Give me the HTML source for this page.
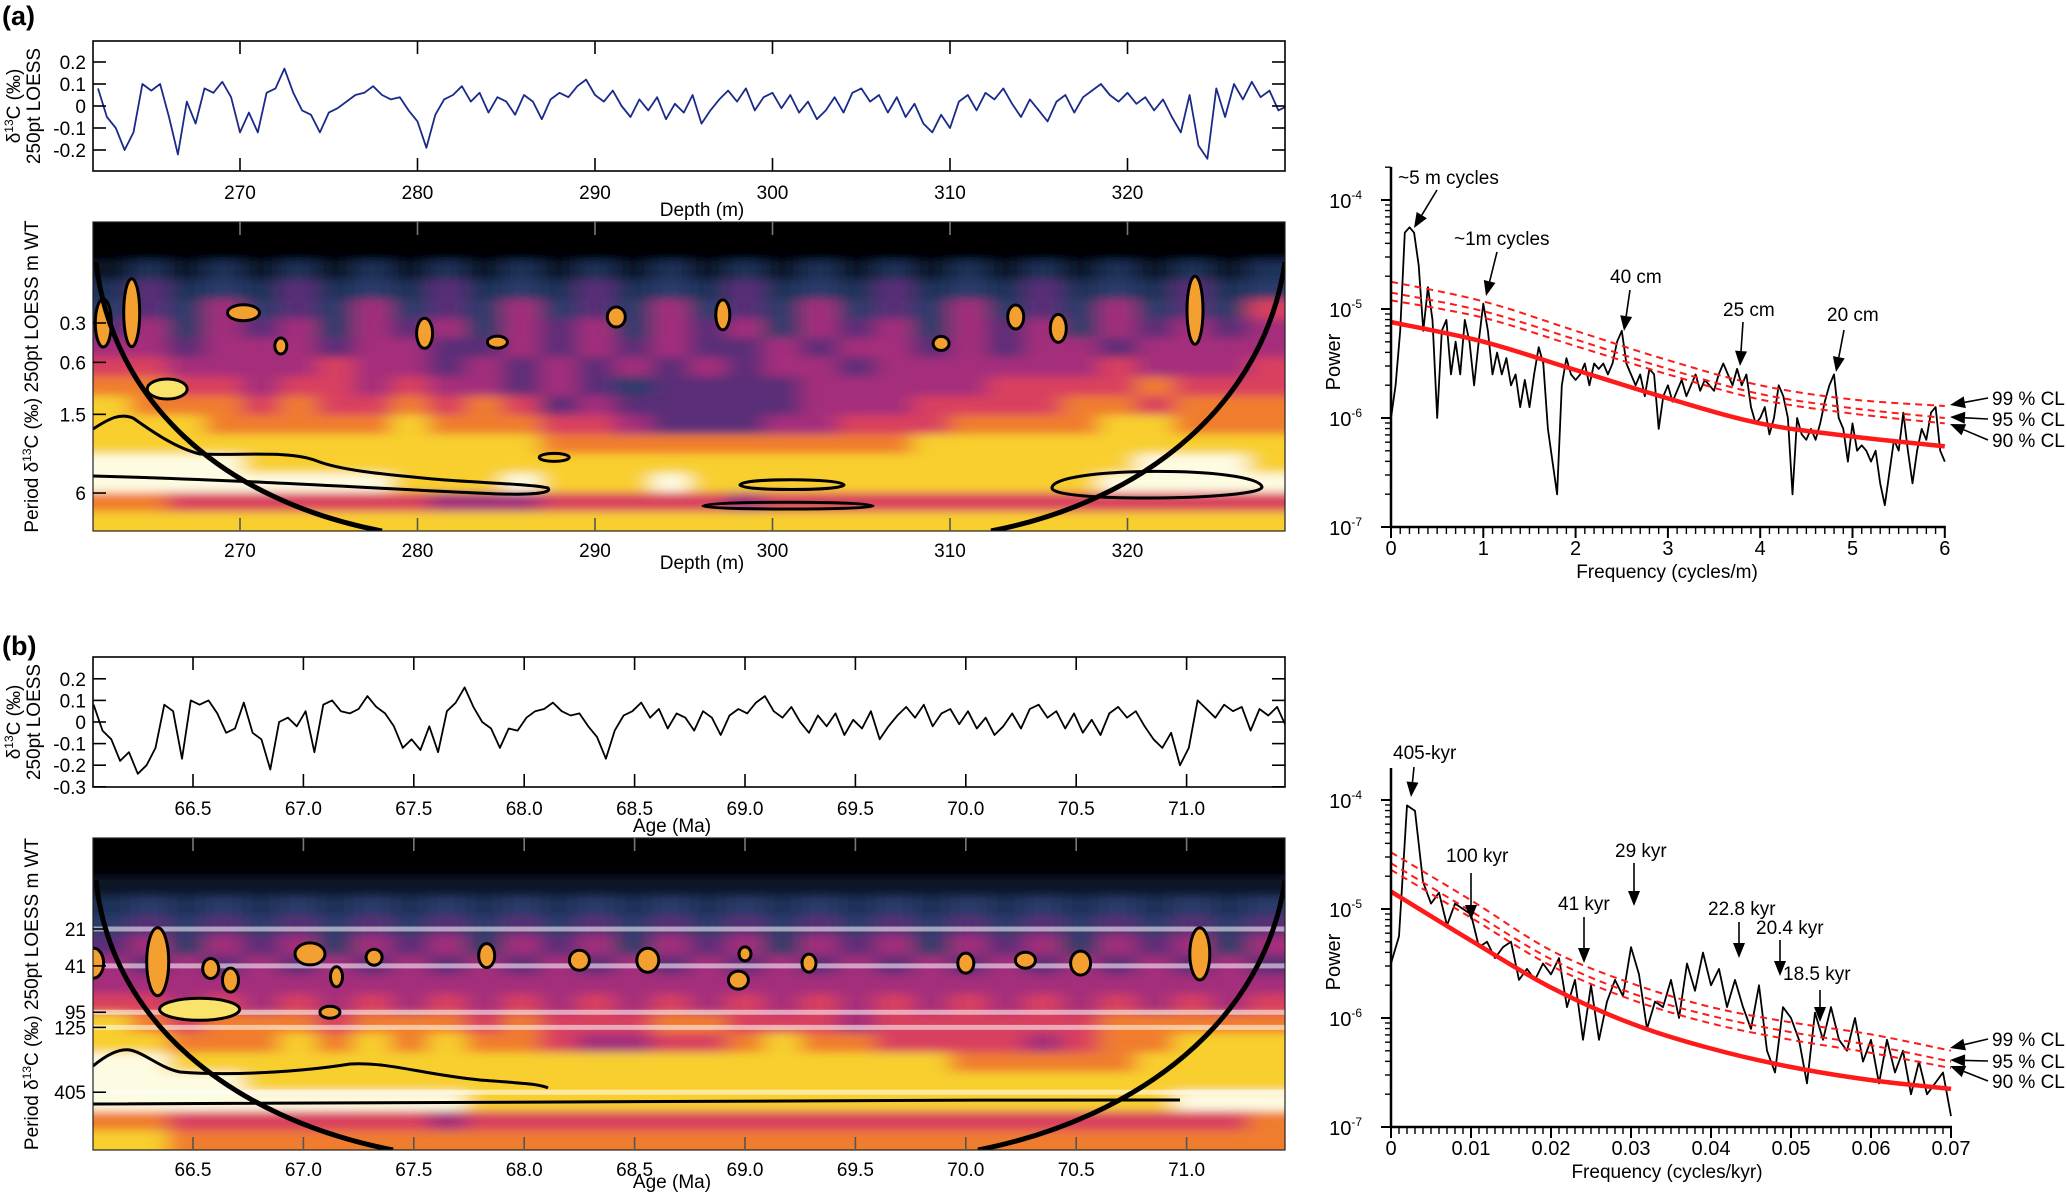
<!DOCTYPE html>
<html><head><meta charset="utf-8"><style>
html,body{margin:0;padding:0;background:#fff;}
svg{display:block;font-family:"Liberation Sans",Arial,sans-serif;}
</style></head><body>
<svg id="fig" width="2067" height="1196" viewBox="0 0 2067 1196" xmlns="http://www.w3.org/2000/svg">
<defs>
<filter id="blurA" x="-5%" y="-5%" width="110%" height="110%"><feGaussianBlur stdDeviation="11 4.5"/></filter>
<clipPath id="clipWA"><rect x="93" y="222" width="1192" height="309"/></clipPath>
<clipPath id="clipWB"><rect x="93" y="838" width="1192" height="312"/></clipPath>
</defs>
</svg>
<script>
// ---------- DATA ----------
const tsAStart = 262.0, tsAStep = 0.5;
const tsAValues = [0.08,-0.05,-0.1,-0.2,-0.12,0.1,0.07,0.1,-0.05,-0.22,0.02,-0.08,0.08,0.06,0.11,0.04,-0.12,-0.03,-0.12,0.06,0.08,0.17,0.06,-0.02,-0.04,-0.12,-0.03,-0.01,0.02,0.05,0.06,0.09,0.05,0.03,0.04,-0.02,-0.07,-0.19,-0.04,0.03,0.05,0.09,0.02,0.06,-0.03,0.04,0.02,-0.04,0.05,0.02,-0.06,0.03,0.06,0.04,0.09,0.12,0.05,0.02,0.07,0.0,-0.05,0.03,-0.02,0.04,-0.06,0.01,-0.03,0.05,-0.08,-0.02,0.03,0.07,0.02,0.08,-0.02,0.04,0.06,-0.01,0.05,-0.03,0.02,-0.06,-0.02,0.04,-0.03,0.06,0.08,0.02,0.05,-0.03,0.04,-0.05,0.01,-0.08,-0.12,-0.04,-0.1,0.02,0.05,-0.02,0.06,0.03,0.08,0.01,-0.05,0.03,-0.02,-0.07,0.02,0.05,-0.03,0.04,0.07,0.1,0.05,0.02,0.06,0.01,0.04,-0.02,0.03,-0.05,-0.12,0.05,-0.18,-0.24,0.08,-0.05,0.1,0.03,0.11,0.04,0.07,-0.02,0.0,-0.03];
const tsBStart = 66.05, tsBStep = 0.04;
const tsBValues = [0.08,-0.04,-0.08,-0.18,-0.14,-0.24,-0.2,-0.12,0.08,0.05,-0.17,0.1,0.08,0.1,0.04,-0.05,-0.03,0.09,-0.05,-0.08,-0.22,0.0,0.02,-0.02,0.05,-0.14,0.08,0.1,0.05,0.04,0.06,0.12,0.07,0.04,-0.02,-0.12,-0.08,-0.13,-0.02,-0.14,0.05,0.09,0.16,0.07,0.0,-0.03,-0.12,-0.03,-0.04,0.02,0.05,0.06,0.09,0.05,0.03,0.04,-0.02,-0.07,-0.17,-0.04,0.03,0.05,0.09,0.02,0.06,-0.03,0.04,0.02,-0.04,0.05,0.02,-0.06,0.03,0.06,0.04,0.09,0.12,0.05,0.02,0.07,0.0,-0.05,0.03,-0.02,0.04,-0.06,0.01,-0.03,0.05,-0.08,-0.02,0.03,0.07,0.02,0.08,-0.02,0.04,0.06,-0.01,0.05,-0.03,0.02,-0.06,-0.02,0.04,-0.03,0.06,0.08,0.02,0.05,-0.03,0.04,-0.05,0.01,-0.06,0.04,0.07,0.02,0.05,-0.02,-0.08,-0.12,-0.05,-0.2,-0.12,0.1,0.06,0.02,0.08,0.05,0.07,-0.04,0.06,0.03,0.07,-0.02,0.04,0.01];
const specAFreq = [0,0.05,0.1,0.15,0.2,0.25,0.3,0.35,0.4,0.45,0.5,0.55,0.6,0.65,0.7,0.75,0.8,0.85,0.9,0.95,1.0,1.05,1.1,1.15,1.2,1.25,1.3,1.35,1.4,1.45,1.5,1.55,1.6,1.65,1.7,1.75,1.8,1.85,1.9,1.95,2.0,2.05,2.1,2.15,2.2,2.25,2.3,2.35,2.4,2.45,2.5,2.55,2.6,2.65,2.7,2.75,2.8,2.85,2.9,2.95,3.0,3.05,3.1,3.15,3.2,3.25,3.3,3.35,3.4,3.45,3.5,3.55,3.6,3.65,3.7,3.75,3.8,3.85,3.9,3.95,4.0,4.05,4.1,4.15,4.2,4.25,4.3,4.35,4.4,4.45,4.5,4.55,4.6,4.65,4.7,4.75,4.8,4.85,4.9,4.95,5.0,5.05,5.1,5.15,5.2,5.25,5.3,5.35,5.4,5.45,5.5,5.55,5.6,5.65,5.7,5.75,5.8,5.85,5.9,5.95,6.0];
const specALogPower = [-6.0,-5.7,-5.2,-4.3,-4.25,-4.3,-4.6,-5.2,-4.8,-5.1,-6.0,-5.2,-5.1,-5.6,-5.3,-5.6,-5.1,-5.3,-5.7,-5.3,-4.95,-5.2,-5.6,-5.4,-5.6,-5.45,-5.7,-5.6,-5.9,-5.65,-5.9,-5.6,-5.35,-5.5,-6.1,-6.4,-6.7,-5.7,-5.45,-5.6,-5.65,-5.6,-5.5,-5.7,-5.5,-5.55,-5.5,-5.6,-5.5,-5.3,-5.2,-5.5,-5.6,-5.7,-5.6,-5.8,-5.55,-5.6,-6.1,-5.8,-5.7,-5.85,-5.75,-5.65,-5.8,-5.7,-5.6,-5.75,-5.65,-5.7,-5.75,-5.6,-5.5,-5.6,-5.7,-5.55,-5.7,-5.6,-5.9,-6.05,-6.0,-5.9,-6.15,-6.0,-5.7,-5.8,-6.0,-6.7,-6.0,-6.15,-6.2,-6.1,-6.2,-6.05,-5.85,-5.7,-5.6,-6.0,-6.1,-6.4,-6.05,-6.3,-6.25,-6.3,-6.4,-6.3,-6.6,-6.8,-6.5,-6.2,-6.3,-5.95,-6.3,-6.6,-6.3,-6.1,-6.2,-5.95,-5.9,-6.3,-6.4];
const specABgFreq = [0,1,2,3,4,5,6];
const specABg = [-5.12,-5.30,-5.56,-5.82,-6.05,-6.17,-6.26];
const specACL90 = [-4.92,-5.08,-5.34,-5.60,-5.83,-5.96,-6.05];
const specACL95 = [-4.85,-5.02,-5.28,-5.55,-5.78,-5.91,-6.0];
const specACL99 = [-4.75,-4.93,-5.2,-5.47,-5.70,-5.83,-5.89];
const specBFreq = [0,0.001,0.002,0.003,0.004,0.005,0.006,0.007,0.008,0.009,0.01,0.011,0.012,0.013,0.014,0.015,0.016,0.017,0.018,0.019,0.02,0.021,0.022,0.023,0.024,0.025,0.026,0.027,0.028,0.029,0.03,0.031,0.032,0.033,0.034,0.035,0.036,0.037,0.038,0.039,0.04,0.041,0.042,0.043,0.044,0.045,0.046,0.047,0.048,0.049,0.05,0.051,0.052,0.053,0.054,0.055,0.056,0.057,0.058,0.059,0.06,0.061,0.062,0.063,0.064,0.065,0.066,0.067,0.068,0.069,0.07];
const specBLogPower = [-5.5,-5.25,-4.05,-4.1,-4.75,-4.95,-4.85,-5.15,-4.95,-5.0,-5.05,-5.35,-5.3,-5.45,-5.35,-5.3,-5.65,-5.55,-5.65,-5.5,-5.6,-5.45,-5.9,-5.65,-6.2,-5.7,-6.2,-5.85,-5.65,-5.8,-5.35,-5.6,-6.1,-5.85,-5.9,-5.65,-6.0,-5.5,-5.75,-5.4,-5.7,-5.55,-5.9,-5.65,-5.9,-6.1,-5.7,-6.3,-6.5,-5.9,-6.0,-6.2,-6.6,-5.95,-6.2,-5.9,-6.2,-6.3,-6.0,-6.4,-6.2,-6.6,-6.2,-6.5,-6.3,-6.7,-6.4,-6.7,-6.6,-6.5,-6.9];
const specBBgFreq = [0,0.01,0.02,0.03,0.04,0.05,0.06,0.07];
const specBBg = [-4.84,-5.29,-5.72,-6.05,-6.28,-6.45,-6.57,-6.65];
const specBCL90 = [-4.64,-5.08,-5.52,-5.83,-6.05,-6.2,-6.32,-6.46];
const specBCL95 = [-4.58,-5.02,-5.46,-5.77,-5.98,-6.13,-6.25,-6.4];
const specBCL99 = [-4.48,-4.92,-5.38,-5.68,-5.9,-6.04,-6.15,-6.3];
// wavelet power grids (0 = black ... 9 = white), rows top (short period) to bottom (long period)
const waveARows = [
"00000000000000000000000000000000",
"00000000000000000000000000000000",
"12121212121212121212121212121212",
"24232423242324232423242324232423",
"34353435343534353435343534353436",
"45354535453545354535453545354545",
"55455545544545454454554545545555",
"66555565545454545455455555565556",
"77665665655454344445555566667666",
"87776766767645444445556666776777",
"88877777877766544455666777788777",
"88888888888877777777778888888888",
"99998888888888888888888888889998",
"99999999888988898888888888899999",
"77666666655566666566666666666666",
"88888888888888888888888888888888"];
const waveBRows = [
"00000000000000000000000000000000",
"00000000000000000000000000000000",
"11111111111111111111111111111111",
"23232323232323232323232323232323",
"34343434343434343434343434343434",
"45354535453545354535453545354535",
"54545454545454545454545454545454",
"55555555555555555555555555555555",
"66565656565656565656565656565656",
"87677767776766677666566666677777",
"88777878787765566787766665677888",
"99888888888888888888888777778888",
"99998888888888888888888888888888",
"99999999998888888888888888888999",
"77666666656666666666666666666667",
"88777777777777777777777777777777"];
// significant-power blobs: [depth, period, rx(px), ry(px), kind]
const blobsA = [[262.3,0.3,8,24,'o'],[263.9,0.25,8,34,'o'],[265.9,0.96,20,10,'y'],[270.2,0.25,16,8,'o'],[272.3,0.45,6,8,'o'],[280.4,0.36,8,15,'o'],[284.5,0.42,10,6,'o'],[291.2,0.27,9,10,'o'],[297.2,0.26,7,15,'o'],[309.5,0.43,8,7,'o'],[313.7,0.27,8,12,'o'],[316.1,0.33,8,14,'o'],[323.8,0.24,8,34,'o'],[287.7,3.2,15,4,'n']];
const blobsB = [[66.05,39,10,15,'o'],[66.34,38,11,34,'o'],[66.53,90,40,11,'y'],[66.67,53,8,12,'o'],[66.58,43,8,10,'o'],[67.03,33,15,11,'o'],[67.15,50,6,10,'o'],[67.12,95,10,6,'o'],[67.32,35,8,8,'o'],[67.83,34,8,12,'o'],[68.25,37,10,10,'o'],[68.56,37,11,12,'o'],[68.97,53,10,9,'o'],[69.0,33,6,7,'o'],[69.29,39,7,9,'o'],[70.0,39,8,10,'o'],[70.27,37,10,8,'o'],[70.52,39,10,12,'o'],[71.06,33,10,26,'o']];
const bandPeriodsB = [21,41,95,125,405];
const ticksDepth = [270,280,290,300,310,320];
const ticksAge = [66.5,67.0,67.5,68.0,68.5,69.0,69.5,70.0,70.5,71.0];
const ticksTSA = [0.2,0.1,0,-0.1,-0.2];
const ticksTSB = [0.2,0.1,0,-0.1,-0.2,-0.3];
const ticksPeriodA = [0.3,0.6,1.5,6];
const ticksPeriodB = [21,41,95,125,405];

// ---------- AXES ----------
const xA = d => 240 + (d - 270) * 17.75;
const yTA = v => 106 - v * 220;
const xB = a => 193 + (a - 66.5) * 220.8;
const yTB = v => 722 - v * 216;
const yPA = p => 323 + 130.7 * Math.log10(p / 0.3);
const yPB = p => 929 + 127 * Math.log10(p / 21);
const xSA = f => 1391 + f * 92.3;
const ySA = lp => 309 - (lp + 5) * 109;
const xSB = f => 1391 + f * 8000;
const ySB = lp => 909 - (lp + 5) * 109;

const NS = 'http://www.w3.org/2000/svg';
const svg = document.getElementById('fig');
function mk(tag, attrs, parent) {
  const e = document.createElementNS(NS, tag);
  for (const k in attrs) e.setAttribute(k, attrs[k]);
  (parent || svg).appendChild(e);
  return e;
}
function txt(x, y, s, size, anchor, parent, extra) {
  const t = mk('text', Object.assign({x: x, y: y, 'font-size': size, 'text-anchor': anchor || 'start', fill: '#000'}, extra || {}), parent);
  t.textContent = s;
  return t;
}
function smoothPath(pts) {
  let d = 'M' + pts[0][0].toFixed(1) + ' ' + pts[0][1].toFixed(1);
  for (let i = 0; i < pts.length - 1; i++) {
    const p0 = pts[Math.max(0, i - 1)], p1 = pts[i], p2 = pts[i + 1], p3 = pts[Math.min(pts.length - 1, i + 2)];
    const c1 = [p1[0] + (p2[0] - p0[0]) / 6, p1[1] + (p2[1] - p0[1]) / 6];
    const c2 = [p2[0] - (p3[0] - p1[0]) / 6, p2[1] - (p3[1] - p1[1]) / 6];
    d += ' C' + c1[0].toFixed(1) + ' ' + c1[1].toFixed(1) + ' ' + c2[0].toFixed(1) + ' ' + c2[1].toFixed(1) + ' ' + p2[0].toFixed(1) + ' ' + p2[1].toFixed(1);
  }
  return d;
}
function arrow(x1, y1, x2, y2, parent) {
  const g = mk('g', {}, parent);
  
  
  const dx = x2 - x1, dy = y2 - y1, L = Math.hypot(dx, dy), ux = dx / L, uy = dy / L;
  const bx = x2 - ux * 15, by = y2 - uy * 15;
  mk('line', {x1: x1, y1: y1, x2: bx, y2: by, stroke: '#000', 'stroke-width': 1.6}, g);
  mk('polygon', {points: x2 + ',' + y2 + ' ' + (bx - uy * 6) + ',' + (by + ux * 6) + ' ' + (bx + uy * 6) + ',' + (by - ux * 6), fill: '#000'}, g);
}
function d13Label(x, cy, parent, name) {
  const t = mk('text', {x: 0, y: 0, 'font-size': 19, 'text-anchor': 'middle', transform: 'translate(' + x + ',' + cy + ') rotate(-90)'}, parent);
  
  
  return t;
}
function addD13(t, pre, post) {
  const a = mk('tspan', {}, t); a.textContent = pre + 'δ';
  const s = mk('tspan', {'font-size': 12, dy: -7}, t); s.textContent = '13';
  const b = mk('tspan', {dy: 7}, t); b.textContent = 'C (‰)' + post;
}
const cmap = ['#000000','#0d1428','#1f3158','#2c3a6a','#5a2d78','#a42f7c','#d9415f','#f07d2e','#f8cf2e','#fdfbe2'];

// ---------- PANEL LABELS ----------
const la = txt(2, 25, '(a)', 27, 'start', svg, {'font-weight': 'bold'});


const lb = txt(2, 655, '(b)', 27, 'start', svg, {'font-weight': 'bold'});



// ---------- TIME SERIES ----------
function addClipRect(id, x, y, w, h) {
  const cp = mk('clipPath', {id: id});
  mk('rect', {x: x, y: y, width: w, height: h}, cp);
}
addClipRect('clipTA', 93, 41, 1192, 130);
addClipRect('clipTB', 93, 657, 1192, 130);
function timeSeries(opt) {
  const g = mk('g', {});
  
  
  const pts = opt.values.map((v, i) => [opt.xf(opt.start + i * opt.step), opt.yf(v)]);
  const line = mk('polyline', {points: pts.map(p => p[0].toFixed(1) + ',' + p[1].toFixed(1)).join(' '), fill: 'none', stroke: opt.color, 'stroke-width': 1.8, 'stroke-linejoin': 'round', 'clip-path': 'url(#' + opt.clip + ')'}, g);
  
  
  const box = mk('rect', {x: 93, y: opt.top, width: 1192, height: opt.bottom - opt.top, fill: 'none', stroke: '#000', 'stroke-width': 1.6}, g);
  
  
  opt.yticks.forEach(v => {
    const y = opt.yf(v);
    mk('line', {x1: 93, y1: y, x2: 106, y2: y, stroke: '#000', 'stroke-width': 1.6}, g);
    mk('line', {x1: 1272, y1: y, x2: 1285, y2: y, stroke: '#000', 'stroke-width': 1.6}, g);
    const t = txt(86, y + 7, String(v), 19, 'end', g);
    
    
  });
  opt.xticks.forEach(v => {
    const x = opt.xf(v);
    mk('line', {x1: x, y1: opt.top, x2: x, y2: opt.top + 13, stroke: '#000', 'stroke-width': 1.6}, g);
    mk('line', {x1: x, y1: opt.bottom - 13, x2: x, y2: opt.bottom, stroke: '#000', 'stroke-width': 1.6}, g);
    const t = txt(x, opt.bottom + 28, opt.fmt(v), 19, 'middle', g);
    
    
  });
  const xt = txt(opt.titleX, opt.bottom + 45, opt.xtitle, 19, 'middle', g);
  
  
  const cy = (opt.top + opt.bottom) / 2;
  const t1 = d13Label(20, cy, g, 'y-axis-title-line1');
  addD13(t1, '', '');
  const t2 = mk('text', {x: 0, y: 0, 'font-size': 19, 'text-anchor': 'middle', transform: 'translate(40,' + cy + ') rotate(-90)'}, g);
  
  
  t2.textContent = '250pt LOESS';
}
timeSeries({name: 'depth-series-panel', values: tsAValues, start: tsAStart, step: tsAStep, xf: xA, yf: yTA, top: 41, bottom: 171, color: '#1a2a8a', clip: 'clipTA', yticks: ticksTSA, xticks: ticksDepth, fmt: v => String(v), xtitle: 'Depth (m)', titleX: 702});
timeSeries({name: 'age-series-panel', values: tsBValues, start: tsBStart, step: tsBStep, xf: xB, yf: yTB, top: 657, bottom: 787, color: '#000', clip: 'clipTB', yticks: ticksTSB, xticks: ticksAge, fmt: v => v.toFixed(1), xtitle: 'Age (Ma)', titleX: 672});

// ---------- WAVELETS ----------
function wavelet(opt) {
  const g = mk('g', {});
  
  
  const clipG = mk('g', {'clip-path': 'url(#' + opt.clip + ')'}, g);
  const heat = mk('g', {filter: 'url(#blurA)'}, clipG);
  
  
  const nr = opt.rows.length, nc = opt.rows[0].length;
  const cw = 1192 / nc, rh = (opt.bottom - opt.top) / nr;
  for (let r = -2; r <= nr + 1; r++) {
    for (let c = -2; c <= nc + 1; c++) {
      const rr = Math.min(nr - 1, Math.max(0, r)), cc = Math.min(nc - 1, Math.max(0, c));
      const v = +opt.rows[rr][cc];
      const cell = mk('rect', {x: (93 + c * cw).toFixed(1), y: (opt.top + r * rh).toFixed(1), width: (cw + 1).toFixed(1), height: (rh + 1).toFixed(1), fill: cmap[v]}, heat);
      
    }
  }
  if (opt.bands) {
    opt.bands.forEach(p => {
      const bl = mk('line', {x1: 93, x2: 1285, y1: opt.yf(p), y2: opt.yf(p), stroke: '#ffffff', 'stroke-opacity': 0.55, 'stroke-width': 5}, clipG);
      
      
    });
  }
  opt.contours.forEach(c => {
    const pth = mk('path', {d: c.d, fill: c.fill || 'none', stroke: c.stroke || '#000', 'stroke-width': 3}, clipG);
    
    
  });
  opt.blobs.forEach(b => {
    const fill = b[4] === 'o' ? '#f3a030' : (b[4] === 'y' ? '#fae36a' : 'none');
    const el = mk('ellipse', {cx: opt.xf(b[0]).toFixed(1), cy: opt.yf(b[1]).toFixed(1), rx: b[2], ry: b[3], fill: fill, stroke: '#000', 'stroke-width': 3}, clipG);
    
    
  });
  opt.coi.forEach(d => {
    const pth = mk('path', {d: d, fill: 'none', stroke: '#000', 'stroke-width': 5}, clipG);
    
    
  });
  const frame = mk('rect', {x: 93, y: opt.top, width: 1192, height: opt.bottom - opt.top, fill: 'none', stroke: '#222', 'stroke-width': 1.2}, g);
  
  
  opt.yticks.forEach(p => {
    const y = opt.yf(p);
    mk('line', {x1: 93, x2: 106, y1: y, y2: y, stroke: '#000', 'stroke-width': 1.6}, g);
    const t = txt(86, y + 7, String(p), 19, 'end', g);
    
    
  });
  opt.xticks.forEach(v => {
    const x = opt.xf(v);
    mk('line', {x1: x, x2: x, y1: opt.top, y2: opt.top + 13, stroke: '#777', 'stroke-width': 1.6}, g);
    mk('line', {x1: x, x2: x, y1: opt.bottom - 13, y2: opt.bottom, stroke: '#555', 'stroke-width': 1.6}, g);
    const t = txt(x, opt.bottom + 26, opt.fmt(v), 19, 'middle', g);
    
    
  });
  const xt = txt(opt.titleX, opt.bottom + 38, opt.xtitle, 19, 'middle', g);
  
  
  const yt = d13Label(38, (opt.top + opt.bottom) / 2, g, 'y-axis-title');
  addD13(yt, 'Period ', ' 250pt LOESS m WT');
}
wavelet({name: 'wavelet-depth-panel', rows: waveARows, top: 222, bottom: 531, clip: 'clipWA', xf: xA, yf: yPA,
  yticks: ticksPeriodA, xticks: ticksDepth, fmt: v => String(v), xtitle: 'Depth (m)', titleX: 702,
  contours: [
    {d: 'M93 429 C110 418 120 413 133 418 C150 430 175 448 200 454 C240 456 290 450 317 461 C340 470 380 474 433 479 C480 483 530 484 548 488 C552 492 540 495 500 494 C400 490 250 480 93 476'},
    {d: 'M740 485 C740 478 842 478 844 485 C842 491 740 491 740 485 Z'},
    {d: 'M703 506 C703 501 873 501 873 506 C873 510 703 510 703 506 Z'},
    {d: 'M1052 488 C1052 466 1258 466 1262 487 C1262 500 1052 503 1052 488 Z'}
  ],
  blobs: blobsA,
  coi: ['M96 262 C112 400 220 500 382 531', 'M991 531 C1150 500 1265 400 1285 262']});
wavelet({name: 'wavelet-age-panel', rows: waveBRows, top: 838, bottom: 1150, clip: 'clipWB', xf: xB, yf: yPB,
  yticks: ticksPeriodB, xticks: ticksAge, fmt: v => v.toFixed(1), xtitle: 'Age (Ma)', titleX: 672, bands: bandPeriodsB,
  contours: [
    {d: 'M93 1066 C105 1056 118 1048 130 1050 C145 1053 160 1068 180 1072 C230 1076 300 1072 350 1064 C390 1062 420 1074 480 1080 C520 1083 540 1084 548 1088'},
    {d: 'M93 1104 C400 1102 800 1100 1180 1100'}
  ],
  blobs: blobsB,
  coi: ['M96 880 C110 1020 230 1118 393 1150', 'M978 1150 C1140 1118 1265 1020 1285 880']});

// ---------- SPECTRA ----------
function spectrum(opt) {
  const g = mk('g', {});
  
  
  const clip = mk('clipPath', {id: opt.name + '-clip'}, g);
  mk('rect', {x: 1391, y: opt.top, width: opt.xf(opt.fmax) - 1391 + 2, height: opt.yf(-7) - opt.top}, clip);
  const cg = mk('g', {'clip-path': 'url(#' + opt.name + '-clip)'}, g);
  const pts = opt.freq.map((f, i) => [opt.xf(f), opt.yf(opt.power[i])]);
  const pl = mk('polyline', {points: pts.map(p => p[0].toFixed(1) + ',' + p[1].toFixed(1)).join(' '), fill: 'none', stroke: '#000', 'stroke-width': 1.8, 'stroke-linejoin': 'round'}, cg);
  
  
  [[opt.cl99, 'cl99-line'], [opt.cl95, 'cl95-line'], [opt.cl90, 'cl90-line']].forEach(a => {
    const p = mk('path', {d: smoothPath(opt.bgFreq.map((f, i) => [opt.xf(f), opt.yf(a[0][i])])), fill: 'none', stroke: '#ff1a1a', 'stroke-width': 2, 'stroke-dasharray': '7 5'}, cg);
    
    
  });
  const bg = mk('path', {d: smoothPath(opt.bgFreq.map((f, i) => [opt.xf(f), opt.yf(opt.bg[i])])), fill: 'none', stroke: '#ff1a1a', 'stroke-width': 4.5}, cg);
  
  
  const y7 = opt.yf(-7), xEnd = opt.xf(opt.fmax);
  mk('line', {x1: 1391, y1: opt.top, x2: 1391, y2: y7 + 1, stroke: '#000', 'stroke-width': 2.5}, g);
  mk('line', {x1: 1390, y1: y7, x2: xEnd + 1, y2: y7, stroke: '#000', 'stroke-width': 2.5}, g);
  for (let e = -7; e <= -4; e++) {
    const y = opt.yf(e);
    mk('line', {x1: 1381, x2: 1391, y1: y, y2: y, stroke: '#000', 'stroke-width': 2}, g);
    const t = mk('text', {x: 1362, y: y + 8, 'font-size': 20, 'text-anchor': 'end'}, g);
    
    
    const a = mk('tspan', {}, t); a.textContent = '10';
    const s = mk('tspan', {'font-size': 12, dy: -9}, t); s.textContent = String(e);
    if (e < -4) for (let m = 2; m <= 9; m++) {
      const ym = opt.yf(e + Math.log10(m));
      mk('line', {x1: 1385, x2: 1391, y1: ym, y2: ym, stroke: '#000', 'stroke-width': 1.4}, g);
    }
  }
  for (let m = 2; m <= 3; m++) { const ym = opt.yf(-4 + Math.log10(m)); if (ym > opt.top) mk('line', {x1: 1385, x2: 1391, y1: ym, y2: ym, stroke: '#000', 'stroke-width': 1.4}, g); }
  const nMinor = Math.round(opt.fmax / opt.minor);
  for (let i = 0; i <= nMinor; i++) {
    const f = i * opt.minor, x = opt.xf(f);
    const major = Math.abs(f / opt.major - Math.round(f / opt.major)) < 1e-6;
    mk('line', {x1: x, x2: x, y1: y7, y2: y7 + (major ? 11 : 7), stroke: '#000', 'stroke-width': major ? 2 : 1.4}, g);
  }
  opt.xticks.forEach(f => {
    const t = txt(opt.xf(f), y7 + 28, opt.fmt(f), 20, 'middle', g);
    
    
  });
  const xt = txt(1667, y7 + 51, opt.xtitle, 19, 'middle', g);
  
  
  const yt = mk('text', {x: 0, y: 0, 'font-size': 20, 'text-anchor': 'middle', transform: 'translate(1340,' + opt.powerY + ') rotate(-90)'}, g);
  
  
  yt.textContent = 'Power';
  opt.notes.forEach(n => {
    const t = txt(n[0], n[1], n[2], 19, 'start', g);
    
    
    arrow(n[3], n[4], n[5], n[6], g);
  });
  opt.cls.forEach(c => {
    const t = txt(1992, c[0] + 7, c[1], 19, 'start', g);
    
    
    arrow(1988, c[0], 1950, c[2], g);
  });
}
spectrum({name: 'spectrum-depth-panel', freq: specAFreq, power: specALogPower, bgFreq: specABgFreq, bg: specABg, cl90: specACL90, cl95: specACL95, cl99: specACL99,
  xf: xSA, yf: ySA, top: 167, fmax: 6, minor: 0.1, major: 1, xticks: [0,1,2,3,4,5,6], fmt: f => String(f), xtitle: 'Frequency (cycles/m)', powerY: 362,
  notes: [[1398, 184, '~5 m cycles', 1437, 190, 1414, 228], [1454, 245, '~1m cycles', 1497, 252, 1486, 296], [1610, 283, '40 cm', 1630, 290, 1624, 331], [1723, 316, '25 cm', 1743, 322, 1740, 366], [1827, 321, '20 cm', 1844, 330, 1836, 372]],
  cls: [[398, '99 % CL', 405], [419, '95 % CL', 417], [440, '90 % CL', 424]]});
spectrum({name: 'spectrum-age-panel', freq: specBFreq, power: specBLogPower, bgFreq: specBBgFreq, bg: specBBg, cl90: specBCL90, cl95: specBCL95, cl99: specBCL99,
  xf: xSB, yf: ySB, top: 768, fmax: 0.07, minor: 0.001, major: 0.01, xticks: [0,0.01,0.02,0.03,0.04,0.05,0.06,0.07], fmt: f => f === 0 ? '0' : f.toFixed(2), xtitle: 'Frequency (cycles/kyr)', powerY: 962,
  notes: [[1393, 759, '405-kyr', 1414, 767, 1411, 797], [1446, 862, '100 kyr', 1471, 873, 1471, 920], [1558, 910, '41 kyr', 1584, 917, 1584, 963], [1615, 857, '29 kyr', 1634, 863, 1634, 906], [1708, 915, '22.8 kyr', 1739, 922, 1739, 958], [1756, 934, '20.4 kyr', 1780, 940, 1780, 976], [1783, 980, '18.5 kyr', 1820, 990, 1820, 1022]],
  cls: [[1039, '99 % CL', 1048], [1061, '95 % CL', 1060], [1081, '90 % CL', 1066]]});
</script>
</body></html>
